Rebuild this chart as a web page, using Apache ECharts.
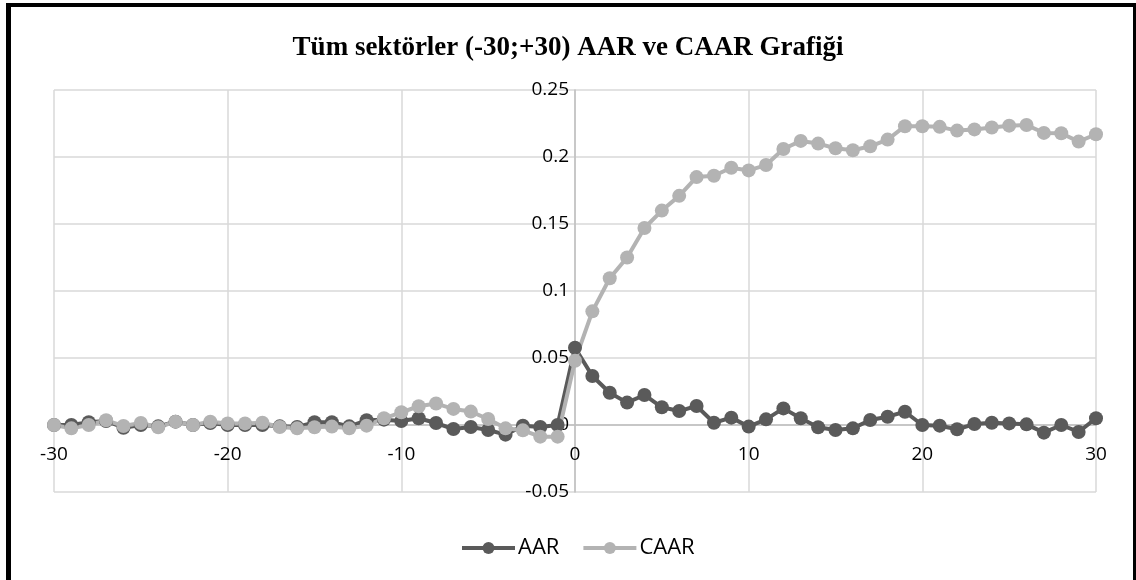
<!DOCTYPE html>
<html>
<head>
<meta charset="utf-8">
<script src="https://cdn.jsdelivr.net/npm/echarts@6/dist/echarts.min.js"></script>
<style>
html,body{margin:0;padding:0;background:#fff;}
#chart{width:1136px;height:580px;}
</style>
</head>
<body>
<div id="chart"></div>
<script>
var days = [-30,-29,-28,-27,-26,-25,-24,-23,-22,-21,-20,-19,-18,-17,-16,-15,-14,-13,-12,-11,
  -10,-9,-8,-7,-6,-5,-4,-3,-2,-1,0,1,2,3,4,5,6,7,8,9,10,11,12,13,14,15,16,17,18,19,20,
  21,22,23,24,25,26,27,28,29,30];
var aar = [0.000,0.000,0.002,0.003,-0.002,0.000,-0.001,0.0025,0.000,0.0015,
  0.000,0.000,0.000,-0.001,-0.0015,0.0020,0.0020,-0.001,0.0035,0.004,
  0.003,0.005,0.0015,-0.003,-0.0015,-0.0037,-0.0072,-0.0005,-0.0015,0.000,
  0.0577,0.0366,0.0241,0.0167,0.0224,0.0132,0.0104,0.0142,0.0017,0.0055,
  -0.0012,0.0042,0.0124,0.005,-0.0017,-0.0037,-0.0025,0.0037,0.0062,0.0099,
  0.000,-0.0005,-0.0032,0.0007,0.0017,0.0012,0.0005,-0.0057,0.000,-0.0052,0.005];
var caar = [0.000,-0.0025,0.000,0.0035,-0.0007,0.0015,-0.0017,0.0025,0.000,0.0025,
  0.0012,0.0012,0.0017,-0.0015,-0.0025,-0.0017,-0.0012,-0.0025,-0.0005,0.005,
  0.0095,0.014,0.016,0.012,0.010,0.0045,-0.0025,-0.004,-0.0087,-0.0087,
  0.048,0.0848,0.1095,0.125,0.147,0.160,0.171,0.185,0.186,0.192,
  0.190,0.194,0.206,0.212,0.210,0.2065,0.205,0.208,0.213,0.223,
  0.223,0.2225,0.2197,0.2206,0.222,0.2234,0.2239,0.218,0.2177,0.2115,0.217];
var xTicks = [-30,-20,-10,0,10,20,30];
var yTicks = [-0.05,0,0.05,0.1,0.15,0.2,0.25];
var titleText = 'Tüm sektörler (-30;+30) AAR ve CAAR Grafiği';

function pairs(vals){ return days.map(function(d,i){ return [d, vals[i]]; }); }

var W = 1136, H = 580;
var gLeft = 54, gRight = 40, gTop = 90, gBottom = 88;
var xMin = xTicks[0], xMax = xTicks[xTicks.length-1];
var yMin = yTicks[0], yMax = yTicks[yTicks.length-1];
var plotW = W - gLeft - gRight, plotH = H - gTop - gBottom;
// shift axes so they cross at zero (like the original)
var yAxisOffset = -plotW * (0 - xMin) / (xMax - xMin);
var xAxisOffset = -plotH * (0 - yMin) / (yMax - yMin);

var chart = echarts.init(document.getElementById('chart'), null, {renderer:'canvas'});
var font = 'Open Sans';
chart.setOption({
  animation:false,
  backgroundColor:'#fff',
  title:{text:titleText,left:'center',top:30,
    textStyle:{fontFamily:'Liberation Serif',fontWeight:'bold',fontSize:27,color:'#000'}},
  legend:{bottom:16,left:455,itemWidth:53,itemHeight:15,itemGap:22,
    lineStyle:{width:4},
    textStyle:{fontFamily:font,fontSize:22,color:'#000',padding:[0,0,0,-2]},
    data:['AAR','CAAR']},
  grid:{left:gLeft,right:gRight,top:gTop,bottom:gBottom,containLabel:false},
  xAxis:{type:'value',min:xMin,max:xMax,interval:10,position:'bottom',offset:xAxisOffset,
    axisLine:{show:true,onZero:false,lineStyle:{color:'#bfbfbf',width:1.5}},
    axisTick:{show:false},
    axisLabel:{fontFamily:font,fontSize:19,color:'#000',margin:20,
      formatter:function(v){return String(Math.round(v));}},
    splitLine:{show:true,lineStyle:{color:'#d9d9d9',width:1.5}}},
  yAxis:{type:'value',min:yMin,max:yMax,interval:0.05,position:'left',offset:yAxisOffset,
    axisLine:{show:true,onZero:false,lineStyle:{color:'#bfbfbf',width:1.5}},
    axisTick:{show:false},
    axisLabel:{fontFamily:font,fontSize:19,color:'#000',margin:6,
      formatter:function(v){return String(parseFloat(v.toFixed(2)));}},
    splitLine:{show:true,lineStyle:{color:'#d9d9d9',width:1.5}}},
  series:[
    {name:'AAR',type:'line',data:pairs(aar),symbol:'circle',symbolSize:14,
      showAllSymbol:true,
      lineStyle:{color:'#5a5a5a',width:4},itemStyle:{color:'#5a5a5a'}},
    {name:'CAAR',type:'line',data:pairs(caar),symbol:'circle',symbolSize:14,
      showAllSymbol:true,
      lineStyle:{color:'#b3b3b3',width:4},itemStyle:{color:'#b3b3b3'}}
  ],
  graphic:[
    {type:'rect',shape:{x:6,y:3,width:5,height:577},style:{fill:'#000'}},
    {type:'rect',shape:{x:6,y:3,width:1130,height:4},style:{fill:'#000'}},
    {type:'rect',shape:{x:1133,y:3,width:3,height:577},style:{fill:'#000'}}
  ]
});
</script>
</body>
</html>
